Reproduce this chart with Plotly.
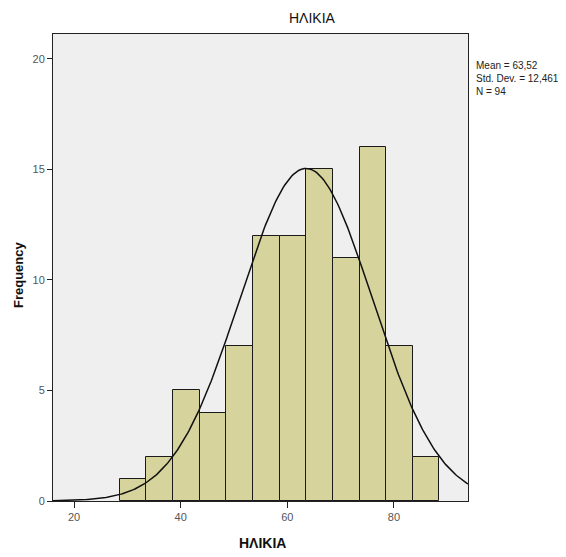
import numpy as np
import plotly.graph_objects as go

# Data
bin_start = 28.55
bin_width = 5.0
counts = [1, 2, 5, 4, 7, 12, 12, 15, 11, 16, 7, 2]
mean_val = 63.52
std_val = 12.461
n_val = 94
x_ticks = [20, 40, 60, 80]
y_ticks = [0, 5, 10, 15, 20]

centers = [bin_start + bin_width * (i + 0.5) for i in range(len(counts))]

# Normal curve from the reported mean / sd, scaled to counts
xc = np.linspace(16.05, 93.9, 300)
yc = n_val * bin_width / (std_val * np.sqrt(2 * np.pi)) * np.exp(-0.5 * ((xc - mean_val) / std_val) ** 2)

fig = go.Figure()
fig.add_trace(go.Bar(
    x=centers, y=counts, width=bin_width,
    marker=dict(color="#d6d39c", line=dict(color="#1a1a1a", width=1)),
    hoverinfo="x+y", showlegend=False,
))
fig.add_trace(go.Scatter(
    x=xc, y=yc, mode="lines",
    line=dict(color="#111111", width=1.5),
    showlegend=False, hoverinfo="skip",
))

font_family = "Liberation Sans, Arial, sans-serif"

# page body has an 8px margin, so the figure is 8px smaller and shifted
fig.update_layout(
    width=558, height=549,
    margin=dict(l=45, r=98, t=26, b=56),
    paper_bgcolor="white",
    plot_bgcolor="#efefef",
    bargap=0,
    font=dict(family=font_family, size=11, color="#333333"),
    xaxis=dict(
        range=[16.05, 93.9], tickvals=x_ticks, ticktext=[str(v) for v in x_ticks],
        showgrid=False, zeroline=False, showline=True, linecolor="#222222", linewidth=1,
        mirror=True, ticks="outside", ticklen=6, tickcolor="#222222",
        tickfont=dict(size=11, color="#555555"),
    ),
    yaxis=dict(
        range=[0, 21.13], tickvals=y_ticks, ticktext=[str(v) for v in y_ticks],
        showgrid=False, zeroline=False, showline=True, linecolor="#222222", linewidth=1,
        mirror=True, ticks="outside", ticklen=5, tickcolor="#222222",
        tickfont=dict(size=11, color="#555555"),
    ),
    annotations=[
        dict(text="HΛIKIA", xref="paper", yref="paper", x=(312 - 53) / 415, y=1.0,
             yshift=16, xanchor="center", yanchor="middle", showarrow=False,
             font=dict(size=14, color="#111111", family=font_family)),
        dict(text="<b>HΛIKIA</b>", xref="paper", yref="paper", x=(262 - 53) / 415, y=0,
             yshift=-42, xanchor="center", yanchor="middle", showarrow=False,
             font=dict(size=14, color="#111111", family=font_family)),
        dict(text="<b>Frequency</b>", xref="paper", yref="paper", x=0, xshift=-35,
             y=(501 - 275) / 467, xanchor="center", yanchor="middle", textangle=-90,
             showarrow=False, font=dict(size=13, color="#111111", family=font_family)),
        dict(text="Mean = 63,52<br>Std. Dev. = 12,461<br>N = 94", xref="paper", yref="paper",
             x=(474 - 53) / 415, y=(501 - 58) / 467, xanchor="left", yanchor="top",
             align="left", showarrow=False,
             font=dict(size=10, color="#222222", family=font_family)),
    ],
)

fig.write_html("out.html")
